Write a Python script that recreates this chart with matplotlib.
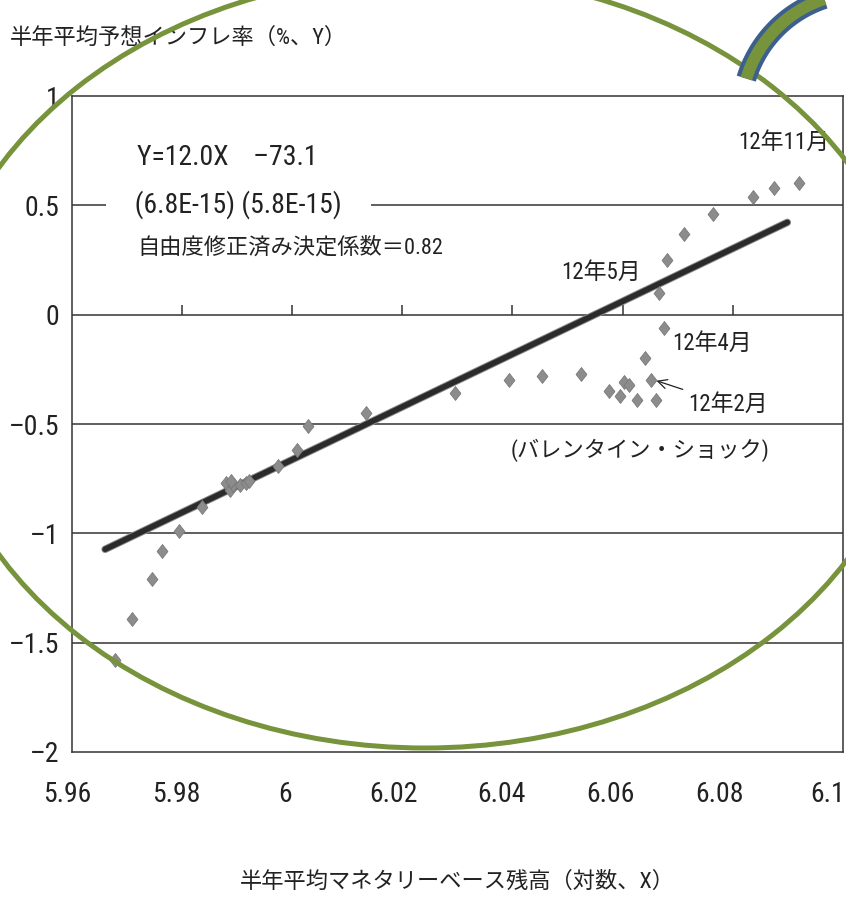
import numpy as np
import matplotlib
matplotlib.use("Agg")
import matplotlib.pyplot as plt
import matplotlib.patheffects as pe
from matplotlib.patches import Ellipse
from matplotlib.transforms import ScaledTranslation
from matplotlib import font_manager

# fonts: a narrow latin face if one is installed, CJK fallback
ttf = font_manager.fontManager.ttflist


def has(name, stretch=None):
    return any(f.name == name and (stretch is None or f.stretch == stretch) for f in ttf)


narrow, stretch = 'Roboto', 'normal'
for nm, st in [('Roboto Condensed', None), ('Liberation Sans Narrow', None),
               ('Roboto', 'condensed'), ('DejaVu Sans', 'condensed'),
               ('Open Sans', 'condensed'), ('Noto Sans', 'condensed')]:
    if has(nm, st):
        narrow, stretch = nm, (st or 'normal')
        break
print("narrow font:", narrow, stretch)
plt.rcParams['font.family'] = [narrow, 'Noto Sans CJK JP']
plt.rcParams['font.stretch'] = stretch

MINUS = '\u2013'  # long dash like the scan's minus sign

# data
money_base = [5.9679, 5.9709, 5.9746, 5.9764, 5.9795, 5.9837, 5.9880, 5.9887,
              5.9893, 5.9890, 5.9905, 5.9917, 5.9923, 5.9974, 6.0009, 6.0030,
              6.0134, 6.0296, 6.0394, 6.0454, 6.0525, 6.0575, 6.0596, 6.0602,
              6.0611, 6.0626, 6.0640, 6.0651, 6.0661, 6.0676, 6.0667, 6.0680,
              6.0711, 6.0765, 6.0837, 6.0875, 6.0920]
inflation = [-1.58, -1.39, -1.21, -1.08, -0.99, -0.88, -0.77, -0.80,
             -0.78, -0.76, -0.78, -0.77, -0.76, -0.69, -0.62, -0.51,
             -0.45, -0.36, -0.30, -0.28, -0.27, -0.35, -0.37, -0.31,
             -0.32, -0.39, -0.20, -0.30, -0.39, -0.06, 0.10, 0.25,
             0.37, 0.46, 0.54, 0.58, 0.60]
fit_x = [5.9661, 6.0899]
fit_y = [-1.073, 0.422]

x_ticks = [5.96, 5.98, 6.00, 6.02, 6.04, 6.06, 6.08, 6.10]
x_ticklabels = ['5.96', '5.98', '6', '6.02', '6.04', '6.06', '6.08', '6.1']
y_ticks = [1, 0.5, 0, -0.5, -1, -1.5, -2]
y_ticklabels = ['1', '0.5', '0', MINUS + '0.5', MINUS + '1', MINUS + '1.5', MINUS + '2']

INK = '#222222'
W, H = 846, 899
fig = plt.figure(figsize=(W / 100, H / 100), dpi=100)
ax = fig.add_axes([71.5 / W, 1 - 752 / H, (843 - 71.5) / W, (752 - 96) / H])

ax.set_xlim(5.96, 6.10)
ax.set_ylim(-2, 1)
ax.set_xticks(x_ticks)
ax.set_xticklabels(x_ticklabels, fontsize=20, color=INK)
ax.set_yticks(y_ticks)
ax.set_yticklabels(y_ticklabels, fontsize=20, color=INK)
ax.tick_params(axis='both', length=0)
ax.tick_params(axis='x', pad=21)
ax.tick_params(axis='y', pad=9)
# x labels in the scan sit a little left of their ticks
for i, lbl in enumerate(ax.get_xticklabels()):
    dx = -(4 + 1.6 * i) / 100
    lbl.set_transform(lbl.get_transform() + ScaledTranslation(dx, 0, fig.dpi_scale_trans))
for s in ax.spines.values():
    s.set_linewidth(1.1)
    s.set_color('#333333')

# horizontal grid
for yv in y_ticks[1:-1]:
    ax.axhline(yv, color='#333333', lw=1.1, zorder=1)
# small ticks standing on the zero line
ax.vlines(x_ticks[1:-1], 0, 0.045, color='#333333', lw=1.1, zorder=1)

# regression line
ax.plot(fit_x, fit_y, color='#2b2b2b', lw=4.0, solid_capstyle='round', zorder=3,
        path_effects=[pe.Stroke(linewidth=5.4, foreground='#8a8a8a'), pe.Normal()])

# scatter, slightly tall diamonds
diamond = [(0, 1), (0.78, 0), (0, -1), (-0.78, 0), (0, 1)]
ax.plot(money_base, inflation, linestyle='none', marker=diamond, markersize=10,
        markerfacecolor='#8c8c8c', markeredgecolor='#7a7a7a', markeredgewidth=0.6,
        zorder=4)

# equation text
ax.text(5.9719, 0.717, 'Y=12.0X\u2002\u2002' + MINUS + '73.1', fontsize=20, va='center',
        ha='left', color=INK, zorder=5)
ax.text(5.9665, 0.502, '\u3000(6.8E-15) (5.8E-15)\u3000', fontsize=20, va='center',
        ha='left', color=INK, zorder=5,
        bbox=dict(facecolor='white', edgecolor='none', pad=1))
ax.text(5.9719, 0.305, '自由度修正済み決定係数\uff1d0.82', fontsize=16, va='center',
        ha='left', color=INK, zorder=5)

# month labels
ax.text(6.0810, 0.79, '12年11月', fontsize=16.5, va='center', ha='left', color=INK)
ax.text(6.0489, 0.195, '12年5月', fontsize=16.5, va='center', ha='left', color=INK)
ax.text(6.0690, -0.13, '12年4月', fontsize=16.5, va='center', ha='left', color=INK)
ax.annotate('12年2月', xy=(6.0659, -0.300), xytext=(6.0719, -0.41),
            fontsize=16.5, va='center', ha='left', color=INK,
            arrowprops=dict(arrowstyle='->', color=INK, lw=0.9,
                            shrinkA=2, shrinkB=1))
ax.text(6.0397, -0.62, '(バレンタイン・ショック)', fontsize=16, va='center', ha='left',
        color=INK)

# axis titles
fig.text(10 / W, 1 - 38 / H, '半年平均予想インフレ率（%、Y）', fontsize=16, va='center',
         ha='left', color=INK)
fig.text(457 / W, 1 - 882 / H, '半年平均マネタリーベース残高（対数、X）', fontsize=16,
         va='center', ha='center', color=INK)

# overlay decorations drawn in pixel space
ov = fig.add_axes([0, 0, 1, 1], zorder=10)
ov.set_xlim(0, W)
ov.set_ylim(H, 0)
ov.axis('off')
ov.patch.set_alpha(0)
ov.add_patch(Ellipse((425, 361), 984, 774, fill=False, edgecolor='#77933C', lw=3.6))
t = np.radians(np.linspace(163, 85, 90))
arc_x = 862 + 121 * np.cos(t)
arc_y = 114 - 121 * np.sin(t)
ov.plot(arc_x, arc_y, color='#77933C', lw=8.6, solid_capstyle='butt',
        path_effects=[pe.Stroke(linewidth=14.4, foreground='#3C5F8F'), pe.Normal()])

fig.savefig('out.png', dpi=100)
